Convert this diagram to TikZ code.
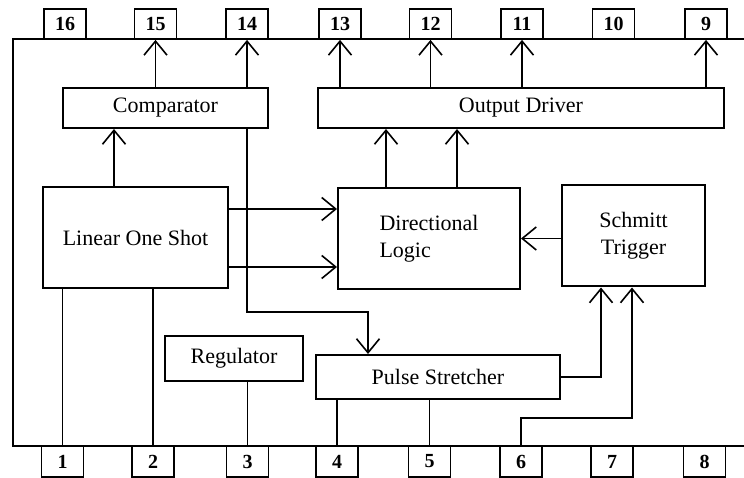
\documentclass[tikz,border=0pt]{standalone}
\usepackage{fontspec}
\setmainfont{Liberation Serif}
\usetikzlibrary{arrows.meta}
\begin{document}
\begin{tikzpicture}[x=1pt,y=1pt,
 blk/.style={draw,line width=2pt,inner sep=0pt,font=\fontsize{22}{27}\selectfont},
 pinbox/.style={draw,line width=1.8pt,minimum width=42pt,minimum height=30pt,inner sep=0pt,font=\fontsize{20}{22}\selectfont\bfseries},
 wire/.style={line width=1.6pt},
 arr/.style={wire,-{Straight Barb[length=14pt,width=23pt]}},
 chipline/.style={line width=1.9pt}]
\useasboundingbox (0,0) rectangle (744,478);
% chip outline
\coordinate (ctr) at (744,439);
\coordinate (ctl) at (13,439);
\coordinate (cbl) at (13,32);
\coordinate (cbr) at (744,32);
\draw[chipline] (ctr) -- (ctl) -- (cbl) -- (cbr);
% pins
\foreach \n/\x in {16/65,15/155.5,14/247,13/340,12/430.5,11/522,10/613.5,9/706}
  \node[pinbox] (p\n) at (\x,454) {\n};
\foreach \n/\x in {1/62.5,2/153,3/247.5,4/337,5/429.5,6/521,7/612,8/704.5}
  \node[pinbox,minimum height=31pt] (p\n) at (\x,16.5) {\n};
% blocks
\node[blk,minimum width=205pt,minimum height=40pt] (comp) at (165.5,370) {Comparator};
\node[blk,minimum width=406pt,minimum height=40pt] (outd) at (521,370) {Output Driver};
\node[blk,minimum width=185pt,minimum height=101pt] (los) at (135.5,240.5) {Linear One Shot};
\node[blk,minimum width=182pt,minimum height=101pt,align=left] (dl) at (429,239.5) {Directional\\Logic};
\node[blk,minimum width=143pt,minimum height=101pt,align=center] (st) at (633.5,242) {Schmitt\\Trigger};
\node[blk,minimum width=138pt,minimum height=45pt] (reg) at (234,119.5) {Regulator};
\node[blk,minimum width=244pt,minimum height=44pt] (ps) at (438,101) {Pulse Stretcher};
% outputs to top pins
\draw[arr] (comp.north -| p15) -- (p15.south);
\draw[arr] (comp.north -| p14) -- (p14.south);
\draw[arr] (outd.north -| p13) -- (p13.south);
\draw[arr] (outd.north -| p12) -- (p12.south);
\draw[arr] (outd.north -| p11) -- (p11.south);
\draw[arr] (outd.north -| p9) -- (p9.south);
% one shot to comparator
\coordinate (c1) at ([xshift=72pt]los.north west);
\draw[arr] (c1) -- (c1 |- comp.south);
% one shot to directional logic
\coordinate (c2) at ([yshift=28.5pt]los.east);
\coordinate (c3) at ([yshift=-29.5pt]los.east);
\draw[arr] (c2) -- (c2 -| dl.west);
\draw[arr] (c3) -- (c3 -| dl.west);
% directional logic to output driver
\coordinate (c4) at ([xshift=49pt]dl.north west);
\coordinate (c5) at ([xshift=120pt]dl.north west);
\draw[arr] (c4) -- (c4 |- outd.south);
\draw[arr] (c5) -- (c5 |- outd.south);
% schmitt to directional logic
\coordinate (c6) at (st.west |- dl.east);
\draw[arr] (c6) -- (dl.east);
% comparator to pulse stretcher
\coordinate (bend) at (368,166);
\draw[arr] (comp.south -| p14) |- (bend) -- (bend |- ps.north);
% pulse stretcher to schmitt
\coordinate (s1) at (601,0);
\draw[arr] (ps.east) -| (s1 |- st.south);
% pin 6 to schmitt
\coordinate (s2) at (632,60);
\draw[arr] (p6.north) |- (s2) -- (s2 |- st.south);
% bottom pin wires
\draw[wire] (los.south -| p1) -- (p1.north);
\draw[wire] (los.south -| p2) -- (p2.north);
\draw[wire] (reg.south -| p3) -- (p3.north);
\draw[wire] (ps.south -| p4) -- (p4.north);
\draw[wire] (ps.south -| p5) -- (p5.north);
\end{tikzpicture}
\end{document}
